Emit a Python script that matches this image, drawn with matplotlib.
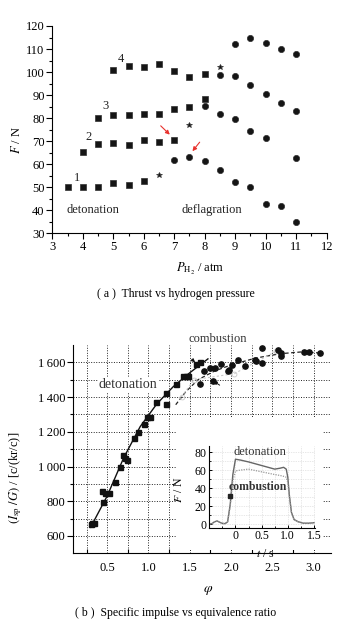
import matplotlib
matplotlib.use("Agg")
import matplotlib.pyplot as plt
from matplotlib.patches import Rectangle
from matplotlib.ticker import MultipleLocator, FixedLocator

plt.rcParams['font.family'] = ['Liberation Serif', 'DejaVu Serif']
plt.rcParams['mathtext.fontset'] = 'stix'
plt.rcParams['font.size'] = 8

# ---------------- data: panel (a) ----------------
s1_P = [3.5, 4, 4.5, 5, 5.5, 6, 6.5, 7, 7.5, 8, 8.5, 9, 9.5, 10, 10.5, 11]
s1_F = [49.9, 50.2, 50.2, 51.8, 50.8, 52.6, 55.2, 61.7, 63.2, 61.4, 57.5, 52.2, 50.2, 42.8, 42.0, 34.9]
s1_regime = ['d'] * 6 + ['t'] + ['f'] * 9

s2_P = [4, 4.5, 5, 5.5, 6, 6.5, 7, 7.5, 8, 8.5, 9, 9.5, 10, 11]
s2_F = [65.4, 68.6, 69.2, 68.5, 70.5, 69.6, 70.6, 77.2, 85.1, 81.8, 79.7, 74.5, 71.3, 62.9]
s2_regime = ['d'] * 7 + ['t'] + ['f'] * 6

s3_P = [4.5, 5, 5.5, 6, 6.5, 7, 7.5, 8, 8.5, 9, 9.5, 10, 10.5, 11]
s3_F = [80.2, 81.3, 81.2, 81.9, 81.9, 83.9, 84.9, 88.3, 98.8, 98.4, 94.3, 90.4, 86.7, 83.3]
s3_regime = ['d'] * 8 + ['f'] * 6

s4_P = [5, 5.5, 6, 6.5, 7, 7.5, 8, 8.5, 9, 9.5, 10, 10.5, 11]
s4_F = [101.0, 102.7, 102.2, 103.6, 100.6, 97.8, 99.0, 102.2, 112.0, 115.0, 112.5, 110.0, 107.9]
s4_regime = ['d'] * 7 + ['t'] + ['f'] * 5

series_labels = ['1', '2', '3', '4']
label_pos_P = [3.80, 4.18, 4.76, 5.24]
label_pos_F = [53.9, 71.7, 85.3, 105.5]

# ---------------- data: panel (b) ----------------
det_phi = [0.30, 0.32, 0.34, 0.44, 0.45, 0.47, 0.52, 0.59, 0.65, 0.69, 0.72, 0.74,
           0.83, 0.87, 0.94, 0.98, 1.02, 1.09, 1.21, 1.21, 1.33, 1.42, 1.46, 1.48, 1.57, 1.63]
det_isp = [668, 675, 677, 860, 796, 845, 846, 910, 1000, 1069, 1048, 1038,
           1166, 1198, 1244, 1283, 1283, 1369, 1423, 1362, 1477, 1519, 1523, 1519, 1590, 1600]

comb_phi = [1.62, 1.67, 1.75, 1.78, 1.81, 1.88, 1.96, 1.98, 2.01, 2.09, 2.17, 2.29, 2.30,
            2.38, 2.38, 2.57, 2.61, 2.61, 2.88, 2.94, 3.08]
comb_isp = [1475, 1550, 1565, 1494, 1567, 1592, 1552, 1558, 1587, 1615, 1577, 1615, 1606,
            1681, 1596, 1673, 1654, 1638, 1658, 1660, 1652]

det_fit_phi = [0.30, 0.50, 0.70, 0.90, 1.10, 1.30, 1.50, 1.72]
det_fit_isp = [650, 830, 1050, 1230, 1360, 1460, 1540, 1620]

comb_fit_phi = [1.33, 1.45, 1.60, 1.80, 2.00, 2.30, 2.60, 2.85, 3.05]
comb_fit_isp = [1356, 1430, 1500, 1550, 1585, 1625, 1650, 1660, 1655]

faint_phi = [1.40, 1.55, 2.04, 2.55]
faint_isp = [1400, 1500, 1535, 1665]

# inset: thrust history
t_s = [-0.5, -0.45, -0.4, -0.35, -0.3, -0.25, -0.2, -0.15, -0.1, -0.05, 0.0, 0.1, 0.25,
       0.5, 0.75, 0.85, 0.92, 0.97, 1.0, 1.03, 1.07, 1.12, 1.2, 1.3, 1.4, 1.5]
F_det = [0, 0.5, 2.5, 3.5, 2, 0.8, 0.5, 2.5, 22, 55, 72, 71, 69, 65, 61, 62, 63, 61,
         52, 32, 13, 5, 2.5, 1, 1, 1.5]
F_comb = [0, 0.5, 2.5, 3.5, 2, 0.8, 0.5, 2.5, 20, 48, 59, 60, 61, 58, 55, 54, 53, 52,
          46, 30, 13, 5, 2.5, 1, 1, 1.5]

# ---------------- figure ----------------
W, H = 352, 621
fig = plt.figure(figsize=(W / 100, H / 100), dpi=100)

def fx(px):
    return px / W

def fy(py):
    return 1 - py / H

# ----- panel (a) -----
axa = fig.add_axes([fx(52.3), fy(233.3), (326.7 - 52.3) / W, (233.3 - 26) / H])
axa.set_xlim(3, 12)
axa.set_ylim(30, 120)
for s in ['top', 'right']:
    axa.spines[s].set_visible(False)
axa.xaxis.set_major_locator(MultipleLocator(1))
axa.xaxis.set_minor_locator(MultipleLocator(0.5))
axa.yaxis.set_major_locator(MultipleLocator(10))
axa.yaxis.set_minor_locator(MultipleLocator(5))
axa.tick_params(which='major', direction='out', length=4, width=0.8, labelsize=9, pad=1.5)
axa.tick_params(which='minor', direction='out', length=2, width=0.8)

mk = {'d': ('s', 4.2), 't': ('*', 4.3), 'f': ('o', 4.5)}
for P, F, R in [(s1_P, s1_F, s1_regime), (s2_P, s2_F, s2_regime),
                (s3_P, s3_F, s3_regime), (s4_P, s4_F, s4_regime)]:
    for kind in ['d', 't', 'f']:
        xs = [p for p, r in zip(P, R) if r == kind]
        ys = [f for f, r in zip(F, R) if r == kind]
        m, ms = mk[kind]
        axa.plot(xs, ys, linestyle='none', marker=m, markersize=ms, color='#151515',
                 markeredgecolor='#303030', markeredgewidth=0.5)

for lab, px, py in zip(series_labels, label_pos_P, label_pos_F):
    axa.text(px, py, lab, fontsize=9, ha='center', va='center', color='#222')

axa.text(4.32, 40.2, 'detonation', fontsize=9, ha='center', va='center', color='#222')
axa.text(8.24, 40.2, 'deflagration', fontsize=9, ha='center', va='center', color='#222')

arrow_kw = dict(arrowstyle='-|>', color='#e8322e', lw=0.8, mutation_scale=6)
axa.annotate('', xy=(6.92, 72.0), xytext=(6.49, 77.5), arrowprops=arrow_kw)
axa.annotate('', xy=(7.54, 64.7), xytext=(7.89, 70.5), arrowprops=arrow_kw)

axa.set_xlabel(r'$P_{\mathrm{H_2}}$ / atm', fontsize=9)
axa.xaxis.set_label_coords(0.54, -0.135)
axa.set_ylabel(r'$F$ / N', fontsize=9)
axa.yaxis.set_label_coords(-0.105, 0.45)

fig.text(0.5, fy(294), '( a )  Thrust vs hydrogen pressure', ha='center', va='center',
         fontsize=8.5)

# ----- panel (b) -----
axb = fig.add_axes([fx(73.3), fy(553.3), (331 - 73.3) / W, (553.3 - 345) / H], zorder=0)
axb.set_xlim(0.09, 3.21)
axb.set_ylim(500, 1700)
for s in ['top', 'right']:
    axb.spines[s].set_visible(False)
axb.xaxis.set_major_locator(FixedLocator([0.5, 1.0, 1.5, 2.0, 2.5, 3.0]))
axb.xaxis.set_minor_locator(FixedLocator([0.25, 0.75, 1.25, 1.75, 2.25, 2.75]))
axb.yaxis.set_major_locator(FixedLocator([600, 800, 1000, 1200, 1400, 1600]))
axb.yaxis.set_minor_locator(FixedLocator([700, 900, 1100, 1300, 1500]))
axb.set_yticklabels(['600', '800', '1\u2009000', '1\u2009200', '1\u2009400', '1\u2009600'])
axb.set_xticklabels(['0.5', '1.0', '1.5', '2.0', '2.5', '3.0'])
axb.tick_params(axis='x', which='major', length=0, labelsize=9, pad=6)
axb.tick_params(axis='x', which='minor', direction='in', length=3, width=0.8)
axb.tick_params(axis='y', which='major', direction='out', length=4, width=0.8, labelsize=9, pad=1.5)
axb.tick_params(axis='y', which='minor', direction='out', length=2, width=0.8)
axb.grid(True, which='both', color='#222', linestyle=(0, (1, 1.6)), linewidth=0.7)

axb.plot(det_fit_phi, det_fit_isp, color='#111', lw=1.0)
axb.plot(comb_fit_phi, comb_fit_isp, color='#222', lw=0.9, linestyle=(0, (3, 2)))
axb.plot(faint_phi, faint_isp, color='#c8c8c8', lw=0.8, linestyle=(0, (2, 2)),
         marker='o', markersize=3.5, markerfacecolor='none', markeredgewidth=0.6)
axb.plot(det_phi, det_isp, linestyle='none', marker='s', markersize=3.6, color='#111')
axb.plot(comb_phi, comb_isp, linestyle='none', marker='o', markersize=3.8, color='#111')

axb.text(0.75, 1471, 'detonation', fontsize=10, ha='center', va='center', color='#333',
         bbox=dict(facecolor='white', edgecolor='none', pad=0.5))
axb.text(1.84, 1737, 'combustion', fontsize=9, ha='center', va='center', color='#333',
         clip_on=False)
blk = dict(arrowstyle='-|>', color='#111', lw=0.7, mutation_scale=5)
axb.annotate('', xy=(1.59, 1590), xytext=(1.50, 1628), arrowprops=blk)
axb.annotate('', xy=(1.76, 1500), xytext=(1.89, 1460), arrowprops=blk)

axb.set_xlabel(r'$\varphi$', fontsize=10)
axb.xaxis.set_label_coords(0.523, -0.145)
axb.set_ylabel(r'$(I_{\mathrm{sp}}\ /G)$ / [c/(kr/c)]', fontsize=9)
axb.yaxis.set_label_coords(-0.19, 0.36)

# white area behind the inset
fig.add_artist(Rectangle((fx(177), fy(550)), (323 - 177) / W, (550 - 416.7) / H,
                         transform=fig.transFigure, facecolor='white', edgecolor='none',
                         zorder=1))

# ----- inset -----
axi = fig.add_axes([fx(209.3), fy(527.7), (315 - 209.3) / W, (527.7 - 445.7) / H], zorder=2)
axi.set_xlim(-0.5, 1.52)
axi.set_ylim(-4, 87)
for s in ['top', 'right']:
    axi.spines[s].set_visible(False)
axi.xaxis.set_major_locator(FixedLocator([0, 0.5, 1.0, 1.5]))
axi.xaxis.set_minor_locator(MultipleLocator(0.25))
axi.yaxis.set_major_locator(FixedLocator([0, 20, 40, 60, 80]))
axi.yaxis.set_minor_locator(MultipleLocator(10))
axi.set_xticklabels(['0', '0.5', '1.0', '1.5'])
axi.tick_params(which='major', direction='in', length=2.5, width=0.7, labelsize=8.5, pad=2)
axi.tick_params(which='minor', direction='in', length=1.5, width=0.6)
axi.grid(True, which='both', color='#d0d0d0', linestyle=(0, (1, 1.5)), linewidth=0.5)
axi.plot(t_s, F_det, color='#666', lw=1.0)
axi.plot(t_s, F_comb, color='#999', lw=0.9, linestyle=(0, (1, 1)))
axi.plot([-0.1], [31], marker='s', markersize=2.2, color='#222')
axi.text(0.46, 80, 'detonation', fontsize=9, ha='center', va='center', color='#333')
axi.text(0.43, 41.5, 'combustion', fontsize=8.5, ha='center', va='center', color='#333',
         fontweight='bold')
axi.set_xlabel(r'$t$ / s', fontsize=8.5, labelpad=0)
axi.xaxis.set_label_coords(0.53, -0.25)
axi.set_ylabel(r'$F$ / N', fontsize=8.5)
axi.yaxis.set_label_coords(-0.23, 0.46)

fig.text(0.5, fy(613), '( b )  Specific impulse vs equivalence ratio', ha='center',
         va='center', fontsize=8.5)

fig.savefig('out.png', dpi=100)
